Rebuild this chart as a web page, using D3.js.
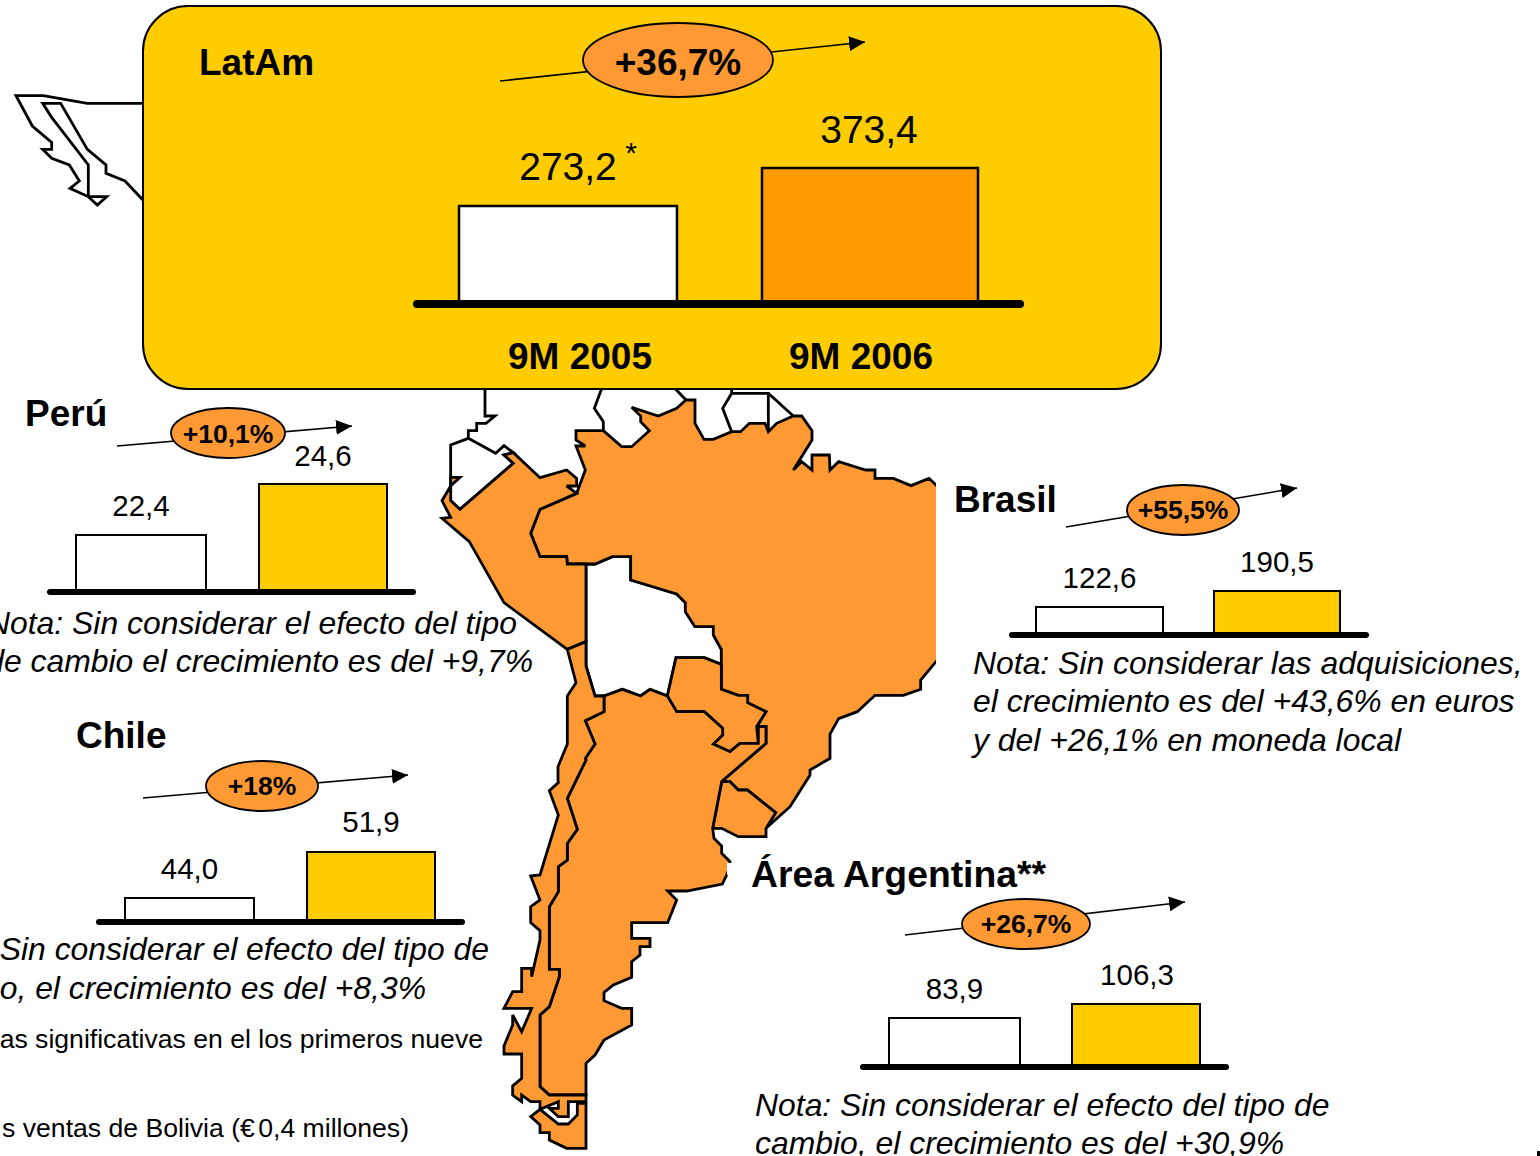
<!DOCTYPE html>
<html><head><meta charset="utf-8">
<script src="https://cdn.jsdelivr.net/npm/d3@7"></script>
<style>html,body{margin:0;padding:0;background:#fff;overflow:hidden}svg{display:block;font-family:"Liberation Sans",Arial,sans-serif}</style>
</head><body><svg id="c" width="1540" height="1156"></svg>
<script>
// ---- data ----
const periods = ["9M 2005", "9M 2006"];
const latamValues = [273.2, 373.4];
const peruValues = [22.4, 24.6];
const chileValues = [44.0, 51.9];
const brasilValues = [122.6, 190.5];
const argentinaValues = [83.9, 106.3];
const growthLabels = {latam:"+36,7%", peru:"+10,1%", chile:"+18%", brasil:"+55,5%", argentina:"+26,7%"};
const fmt = v => d3.format(".1f")(v).replace(".", ",");

// ---- map outlines, in crop coordinates of the traced regions ----
const A = p => p.map(([x,y]) => [430 + x/3, 380 + y/3]);   // north
const B = p => p.map(([x,y]) => [490 + x/3, 760 + y/3]);   // south
const M = p => p.map(([x,y]) => [x/3, 80 + y/3]);          // Mexico
const brasilShape = [...A([[520,152],[438,152],[438,180],[466,198],[438,198],[466,270],[440,340],[330,388],[302,460],[330,530],[410,530],[412,552],[495,552],[547,530],[602,530],[602,600],[740,642],[766,668],[766,695],[795,740],[850,740],[850,765],[874,808],[874,928],[925,946],[953,946],[953,968],[1008,995],[980,1040],[1008,1040],[1008,1090],[880,1200]]),
  ...B([[695,65],[720,65],[745,90],[772,90],[857,158],[828,205],[900,140]]),
  ...A([[1140,1185],[1140,1170],[1200,1135],[1200,1062],[1226,1016],[1282,995],[1335,946],[1420,946],[1472,928],[1472,900],[1518,845],[1600,760],[1600,400],[1518,315],[1497,295],[1443,317],[1390,295],[1335,295],[1335,270],[1307,270],[1226,245],[1200,270],[1198,225],[1146,225],[1146,270],[1115,245],[1090,270],[1146,180],[1146,152],[1115,108],[1090,108],[1040,130],[1015,155],[1005,130],[958,130],[932,155],[905,155],[850,178],[822,178],[795,130],[795,60],[768,60],[740,85],[685,108],[605,82],[632,108],[632,125],[658,152],[605,200],[575,200]])];
const peruShape = A([[250,250],[222,225],[250,218],[330,293],[410,270],[440,295],[440,318],[410,318],[440,340],[330,388],[302,460],[330,530],[410,530],[412,552],[468,552],[468,785],[412,808],[222,668],[118,485],[36,415],[62,412],[36,362],[62,318],[90,292],[62,292],[62,362],[90,388]]);
const ecuadorShape = A([[115,175],[197,220],[222,197],[250,218],[222,225],[250,250],[90,388],[62,362],[62,195]]);
const boliviaShape = A([[468,552],[495,552],[547,530],[602,530],[602,600],[740,642],[766,668],[766,695],[795,740],[850,740],[850,765],[874,808],[874,853],[823,833],[738,833],[712,948],[660,928],[632,948],[577,928],[522,948],[495,948],[468,858]]);
const paraguayShape = A([[738,833],[823,833],[874,853],[874,928],[925,946],[953,946],[953,968],[1008,995],[980,1040],[985,1090],[930,1090],[900,1115],[850,1092],[878,1065],[878,1045],[823,995],[740,995],[712,948]]);
const uruguayShape = B([[695,65],[720,65],[745,90],[772,90],[857,158],[828,205],[828,230],[745,230],[695,205],[668,205]]);
const chileShape = [...A([[468,785],[412,808],[438,908],[412,948],[412,1092],[384,1160],[384,1200]]),
  ...B([[205,68],[178,92],[205,165],[150,345],[122,348],[150,420],[122,440],[122,488],[150,512],[150,540],[125,650],[125,625],[95,625],[95,695],[68,695],[42,745],[125,745],[95,815],[68,765],[68,795],[42,858],[42,882],[95,882],[95,955],[68,978],[68,1005],[95,1025],[95,1005],[122,1025],[150,1025],[150,1048],[205,1025],[205,1045],[178,1045],[205,1070],[235,1070],[235,1025],[288,1025],[288,1005],[178,1005],[150,980],[150,765],[178,740],[208,650],[208,628],[178,628],[178,440],[205,395],[205,320],[232,300],[232,250],[262,208],[232,115],[288,0]]),
  ...A([[466,1135],[495,1092],[466,1022],[522,995],[522,948],[495,948],[468,858]])];
const argentinaShape = [...A([[522,948],[577,928],[632,948],[660,928],[712,948],[740,995],[823,995],[878,1045],[878,1065],[850,1092],[900,1115],[930,1090],[985,1090],[985,1040],[1008,1040],[1008,1090],[880,1200]]),
  ...B([[695,65],[668,205],[672,235],[695,258],[695,280],[720,305],[720,320],[710,345],[697,372],[590,393],[533,393],[560,420],[533,488],[425,488],[425,535],[480,535],[480,560],[450,560],[450,585],[425,605],[425,652],[370,675],[342,697],[342,722],[395,745],[425,745],[425,795],[342,840],[315,885],[288,910],[288,1005],[178,1005],[150,980],[150,765],[178,740],[208,650],[208,628],[178,628],[178,440],[205,395],[205,320],[232,300],[232,250],[262,208],[232,115],[288,0]]),
  ...A([[466,1135],[495,1092],[466,1022],[522,995]])];
const fuegoShape = B([[150,1048],[122,1070],[150,1095],[150,1118],[178,1118],[178,1140],[230,1165],[288,1165],[288,1030],[262,1030],[262,1065],[235,1092],[205,1092]]);
const borderLines = [
  A([[165,20],[165,108],[195,108],[168,130],[140,130],[140,152],[115,152],[115,175]]),
  A([[517,20],[493,85],[520,125],[520,152]]),
  A([[730,20],[768,60]]),
  A([[905,20],[905,40],[878,85],[905,155]]),
  A([[905,40],[1015,40],[1015,155]]),
  A([[1015,40],[1090,108]]),
  M([[440,70],[262,70],[130,47],[48,47],[97,138],[155,187],[155,208],[128,208],[155,235],[208,255],[238,303],[210,325],[265,350],[320,350],[292,375],[265,350],[265,255],[155,112],[128,70],[182,70],[262,208],[318,255],[318,280],[375,303],[440,372]])
];

// ---- layout ----
const svg = d3.select("#c");
const orange = "#FF9933", yellow = "#FFCC00";
const defs = svg.append("defs");
defs.append("marker").attr("id","ah").attr("viewBox","0 0 16 15").attr("refX",16).attr("refY",7.5)
  .attr("markerUnits","userSpaceOnUse").attr("markerWidth",16).attr("markerHeight",15).attr("orient","auto")
  .append("path").attr("d","M0,0L16,7.5L0,15Z").attr("fill","#000");
defs.append("clipPath").attr("id","mapClip").append("rect").attr("x",0).attr("y",0).attr("width",936).attr("height",1156);

const map = svg.append("g").attr("clip-path","url(#mapClip)").attr("stroke","#000").attr("stroke-width",2.8).attr("stroke-linejoin","miter").attr("stroke-miterlimit",3);
const line = d3.line();
[[ecuadorShape,"#fff"],[boliviaShape,"#fff"],[brasilShape,orange],[peruShape,orange],[paraguayShape,orange],[uruguayShape,orange],[argentinaShape,orange],[chileShape,orange],[fuegoShape,orange]]
  .forEach(([s,f]) => map.append("path").attr("d", line(s)+"Z").attr("fill",f));
borderLines.forEach(s => map.append("path").attr("d", line(s)).attr("fill","none"));
svg.append("rect").attr("x",727).attr("y",863).attr("width",24).attr("height",12).attr("fill","#fff");

svg.append("rect").attr("x",143).attr("y",6).attr("width",1018).attr("height",383).attr("rx",45).attr("ry",45)
  .attr("fill",yellow).attr("stroke","#000").attr("stroke-width",2);

function text(x,y,s,size,o={}){
  return svg.append("text").attr("x",x).attr("y",y).attr("font-size",size).attr("fill","#000")
    .attr("font-weight",o.b?"bold":"normal").attr("font-style",o.i?"italic":"normal")
    .attr("text-anchor",o.a||"start").text(s);
}
function panel(values, cfg){
  const y = d3.scaleLinear().domain(values).range(cfg.tops);
  const cols = [cfg.fillA, cfg.fillB];
  cfg.xs.forEach((xr,i)=>{
    svg.append("rect").attr("x",xr[0]).attr("width",xr[1]-xr[0]).attr("y",y(values[i])).attr("height",cfg.base-y(values[i]))
      .attr("fill",cols[i]).attr("stroke","#000").attr("stroke-width",cfg.barStroke||2);
    text((xr[0]+xr[1])/2 + cfg.labelDx[i], y(values[i]) + cfg.labelDy[i], fmt(values[i]), cfg.labelSize, {a:"middle"});
  });
  const h = cfg.axisH||6;
  svg.append("rect").attr("x",cfg.axis[0]).attr("width",cfg.axis[1]-cfg.axis[0]).attr("y",cfg.base+2-h/2).attr("height",h)
    .attr("rx",h/2).attr("fill","#000");
  const a=cfg.arrow;
  svg.append("line").attr("x1",a[0]).attr("y1",a[1]).attr("x2",a[2]).attr("y2",a[3]).attr("stroke","#000").attr("stroke-width",1.6).attr("marker-end","url(#ah)");
  const e=cfg.ell;
  svg.append("ellipse").attr("cx",e[0]).attr("cy",e[1]).attr("rx",e[2]).attr("ry",e[3]).attr("fill",orange).attr("stroke","#000").attr("stroke-width",1.8);
  text(e[0],e[1]+cfg.gDy,cfg.growth,cfg.gSize,{b:true,a:"middle"});
}
panel(latamValues,{xs:[[459,677],[762,978]],tops:[206,168],base:302,axis:[413,1024],axisH:8,barStroke:2.5,fillA:"#fff",fillB:"#FF9900",labelDx:[0,-1],labelDy:[-26,-25],labelSize:39,arrow:[500,81,865,42],ell:[678,60,95,37],growth:growthLabels.latam,gSize:37,gDy:15});
panel(peruValues,{xs:[[76,206],[259,387]],tops:[535,484],base:590,axis:[47,416],fillA:"#fff",fillB:yellow,labelDx:[0,0],labelDy:[-19,-18],labelSize:29.5,arrow:[117,446,352,426],ell:[228,433,57,25],growth:growthLabels.peru,gSize:26.5,gDy:9.5});
panel(chileValues,{xs:[[125,254],[307,435]],tops:[898,852],base:920,axis:[96,465],fillA:"#fff",fillB:yellow,labelDx:[0,0],labelDy:[-19,-20],labelSize:29.5,arrow:[143,798,408,775],ell:[262,786,56,25],growth:growthLabels.chile,gSize:26.5,gDy:9});
panel(brasilValues,{xs:[[1036,1163],[1214,1340]],tops:[607,591],base:633,axis:[1009,1369],fillA:"#fff",fillB:yellow,labelDx:[0,0],labelDy:[-19,-19],labelSize:29.5,arrow:[1066,527,1297,488],ell:[1183,510,56,25],growth:growthLabels.brasil,gSize:26.5,gDy:9});
panel(argentinaValues,{xs:[[889,1020],[1072,1200]],tops:[1018,1004],base:1065,axis:[860,1229],fillA:"#fff",fillB:yellow,labelDx:[0,1],labelDy:[-19,-19],labelSize:29.5,arrow:[905,935,1185,902],ell:[1026,924,64,25],growth:growthLabels.argentina,gSize:26.5,gDy:9});

text(199,75,"LatAm",37,{b:true});
text(631,163,"*",30,{a:"middle"});
text(580,369,periods[0],37,{b:true,a:"middle"});
text(861,369,periods[1],37,{b:true,a:"middle"});
text(25,426,"Perú",37,{b:true});
text(76,748,"Chile",37,{b:true});
text(954,512,"Brasil",37,{b:true});
text(751,887,"Área Argentina**",37.3,{b:true});

const noteSize=31.9;
text(517,634,"Nota: Sin considerar el efecto del tipo",noteSize,{i:true,a:"end"});
text(533,672,"de cambio el crecimiento es del +9,7%",noteSize,{i:true,a:"end"});
text(973,674,"Nota: Sin considerar las adquisiciones,",noteSize,{i:true});
text(973,712,"el crecimiento es del +43,6% en euros",noteSize,{i:true});
text(973,751,"y del +26,1% en moneda local",noteSize,{i:true});
text(489,960,"Sin considerar el efecto del tipo de",noteSize,{i:true,a:"end"});
text(426,999,"o, el crecimiento es del +8,3%",noteSize,{i:true,a:"end"});
text(755,1116,"Nota: Sin considerar el efecto del tipo de",noteSize,{i:true});
text(755,1154,"cambio, el crecimiento es del +30,9%",noteSize,{i:true});
text(483,1048,"tas significativas en el los primeros nueve",26.6,{a:"end"});
const boliviaNote = text(409,1137,"s ventas de Bolivia (€ ",26.6,{a:"end"});
boliviaNote.append("tspan").attr("dx",-4).text("0,4 millones)");
svg.append("rect").attr("x",1537).attr("y",1151).attr("width",3).attr("height",5).attr("fill","#000");
</script></body></html>
